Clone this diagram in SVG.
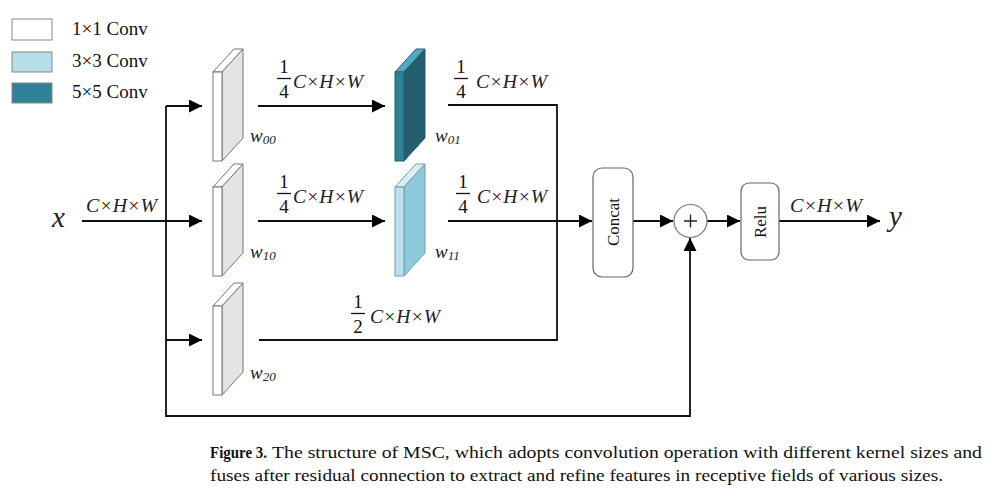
<svg xmlns="http://www.w3.org/2000/svg" width="996" height="496" viewBox="0 0 996 496">
<style>
  .t { font-family: "Liberation Serif", "Times New Roman", serif; fill: #111; }
  .it { font-family: "Liberation Serif", "Times New Roman", serif; font-style: italic; fill: #222; }
  .frac { font-family: "Liberation Serif", "Times New Roman", serif; font-size: 19px; fill: #111; text-anchor: middle; }
  .bar { stroke: #111; stroke-width: 1.3; }
  .ln { fill: none; stroke: #111; stroke-width: 1.8; }
  .box { fill: #fff; stroke: #666; stroke-width: 1.2; }
  .g1 .f, .g1 .tp { fill: #fff; } .g1 .s { fill: #e4e4e4; }
  .g1 polygon, .g1 rect { stroke: #777; stroke-width: 1; }
  .g5 .f { fill: #2e8197; } .g5 .s { fill: #235f6f; } .g5 .tp { fill: #4fabc4; }
  .g5 polygon, .g5 rect { stroke: #2a5d6b; stroke-width: 1; }
  .g3 .f { fill: #bce0ea; } .g3 .s { fill: #8fcadb; } .g3 .tp { fill: #d9eff5; }
  .g3 polygon, .g3 rect { stroke: #6c9fae; stroke-width: 1; }
  .cap { font-family: "Liberation Serif", "Times New Roman", serif; font-size: 16.5px; fill: #111; }
  .wl { font-family: "Liberation Serif", "Times New Roman", serif; font-style: italic; fill: #222; font-size: 19px; }
</style>
<defs>
  <marker id="ah" markerUnits="userSpaceOnUse" markerWidth="14" markerHeight="14" refX="13" refY="6.5" orient="auto">
    <path d="M0,0 L13,6.5 L0,13 z" fill="#000"/>
  </marker>
</defs>

<!-- legend -->
<g id="legend">
  <rect x="12" y="19" width="40" height="21" fill="#fff" stroke="#888" stroke-width="1"/>
  <rect x="12" y="52" width="40" height="20" fill="#b6dde8" stroke="#888" stroke-width="1"/>
  <rect x="12" y="83" width="40" height="20" fill="#2e8196" stroke="#888" stroke-width="1"/>
  <text class="t" x="72" y="35" font-size="19">1×1 Conv</text>
  <text class="t" x="72" y="67" font-size="19">3×3 Conv</text>
  <text class="t" x="72" y="98" font-size="19">5×5 Conv</text>
</g>

<!-- connectors -->
<g id="connectors">
  <path class="ln" d="M82,221 H202" marker-end="url(#ah)"/>
  <path class="ln" d="M166,106 H202" marker-end="url(#ah)"/>
  <path class="ln" d="M166,340 H202" marker-end="url(#ah)"/>
  <path class="ln" d="M166,106 V416 H690 V238" marker-end="url(#ah)"/>
  <path class="ln" d="M258,106 H385" marker-end="url(#ah)"/>
  <path class="ln" d="M258,221 H385" marker-end="url(#ah)"/>
  <path class="ln" d="M448,105 H557 V340 H259"/>
  <path class="ln" d="M448,221 H592" marker-end="url(#ah)"/>
  <path class="ln" d="M633,221 H673" marker-end="url(#ah)"/>
  <path class="ln" d="M707,221 H740" marker-end="url(#ah)"/>
  <path class="ln" d="M779,221 H880" marker-end="url(#ah)"/>
</g>

<!-- edge labels -->
<g id="edge-labels">
  <text class="it" x="86" y="212" font-size="18" textLength="71" lengthAdjust="spacingAndGlyphs">C×H×W</text>
  <text class="it" x="790" y="212" font-size="18" textLength="72" lengthAdjust="spacingAndGlyphs">C×H×W</text>

  <text class="frac" x="284" y="73">1</text><line class="bar" x1="277" y1="78.5" x2="291" y2="78.5"/><text class="frac" x="284" y="98">4</text>
  <text class="it" x="293" y="88" font-size="18" textLength="70" lengthAdjust="spacingAndGlyphs">C×H×W</text>

  <text class="frac" x="284" y="188">1</text><line class="bar" x1="277" y1="193.5" x2="291" y2="193.5"/><text class="frac" x="284" y="213">4</text>
  <text class="it" x="293" y="203" font-size="18" textLength="70" lengthAdjust="spacingAndGlyphs">C×H×W</text>

  <text class="frac" x="461" y="73">1</text><line class="bar" x1="454" y1="78.5" x2="468" y2="78.5"/><text class="frac" x="461" y="98">4</text>
  <text class="it" x="476" y="88" font-size="18" textLength="71" lengthAdjust="spacingAndGlyphs">C×H×W</text>

  <text class="frac" x="463" y="188">1</text><line class="bar" x1="456" y1="193.5" x2="470" y2="193.5"/><text class="frac" x="463" y="213">4</text>
  <text class="it" x="477" y="203" font-size="18" textLength="70" lengthAdjust="spacingAndGlyphs">C×H×W</text>

  <text class="frac" x="358" y="308">1</text><line class="bar" x1="351" y1="313.5" x2="365" y2="313.5"/><text class="frac" x="358" y="333">2</text>
  <text class="it" x="370" y="323" font-size="18" textLength="70" lengthAdjust="spacingAndGlyphs">C×H×W</text>

  <text class="it" x="52" y="227" font-size="29">x</text>
  <text class="it" x="889" y="226" font-size="29">y</text>
</g>

<!-- conv blocks -->
<g id="w00" class="g1">
  <polygon class="tp" points="213,72 222,72 243,49 234,49"/>
  <polygon class="s" points="222,72 243,49 243,138 222,161"/>
  <rect class="f" x="213" y="72" width="9" height="89"/>
  <text class="wl" x="250" y="142">w<tspan font-size="13" dy="2">00</tspan></text>
</g>
<g id="w10" class="g1">
  <polygon class="tp" points="213,187 222,187 243,164 234,164"/>
  <polygon class="s" points="222,187 243,164 243,253 222,276"/>
  <rect class="f" x="213" y="187" width="9" height="89"/>
  <text class="wl" x="250" y="258">w<tspan font-size="13" dy="2">10</tspan></text>
</g>
<g id="w20" class="g1">
  <polygon class="tp" points="213,306 222,306 243,283 234,283"/>
  <polygon class="s" points="222,306 243,283 243,372 222,395"/>
  <rect class="f" x="213" y="306" width="9" height="89"/>
  <text class="wl" x="250" y="379">w<tspan font-size="13" dy="2">20</tspan></text>
</g>
<g id="w01" class="g5">
  <polygon class="tp" points="395,72 404,72 425,49 416,49"/>
  <polygon class="s" points="404,72 425,49 425,138 404,161"/>
  <rect class="f" x="395" y="72" width="9" height="89"/>
  <text class="wl" x="435" y="142">w<tspan font-size="13" dy="2">01</tspan></text>
</g>
<g id="w11" class="g3">
  <polygon class="tp" points="395,187 404,187 425,164 416,164"/>
  <polygon class="s" points="404,187 425,164 425,253 404,276"/>
  <rect class="f" x="395" y="187" width="9" height="89"/>
  <text class="wl" x="435" y="258">w<tspan font-size="13" dy="2">11</tspan></text>
</g>

<!-- concat -->
<g id="concat">
  <rect class="box" x="593" y="168" width="40" height="109" rx="9"/>
  <text class="t" font-size="17" text-anchor="middle" transform="translate(619,222) rotate(-90)">Concat</text>
</g>

<!-- add -->
<g id="add">
  <circle cx="690.5" cy="221" r="16.5" fill="#fff" stroke="#777" stroke-width="1.2"/>
  <path d="M684,221 H697 M690.5,214.5 V227.5" stroke="#222" stroke-width="1.4"/>
</g>

<!-- relu -->
<g id="relu">
  <rect class="box" x="741" y="183" width="38" height="77" rx="8"/>
  <text class="t" font-size="17" text-anchor="middle" transform="translate(766,222) rotate(-90)">Relu</text>
</g>

<!-- caption -->
<g id="caption">
  <text class="cap" x="210" y="458" font-weight="bold" textLength="57" lengthAdjust="spacingAndGlyphs">Figure 3.</text>
  <text class="cap" x="272" y="458" textLength="710" lengthAdjust="spacingAndGlyphs">The structure of MSC, which adopts convolution operation with different kernel sizes and</text>
  <text class="cap" x="210" y="481" textLength="733" lengthAdjust="spacingAndGlyphs">fuses after residual connection to extract and refine features in receptive fields of various sizes.</text>
</g>
</svg>
